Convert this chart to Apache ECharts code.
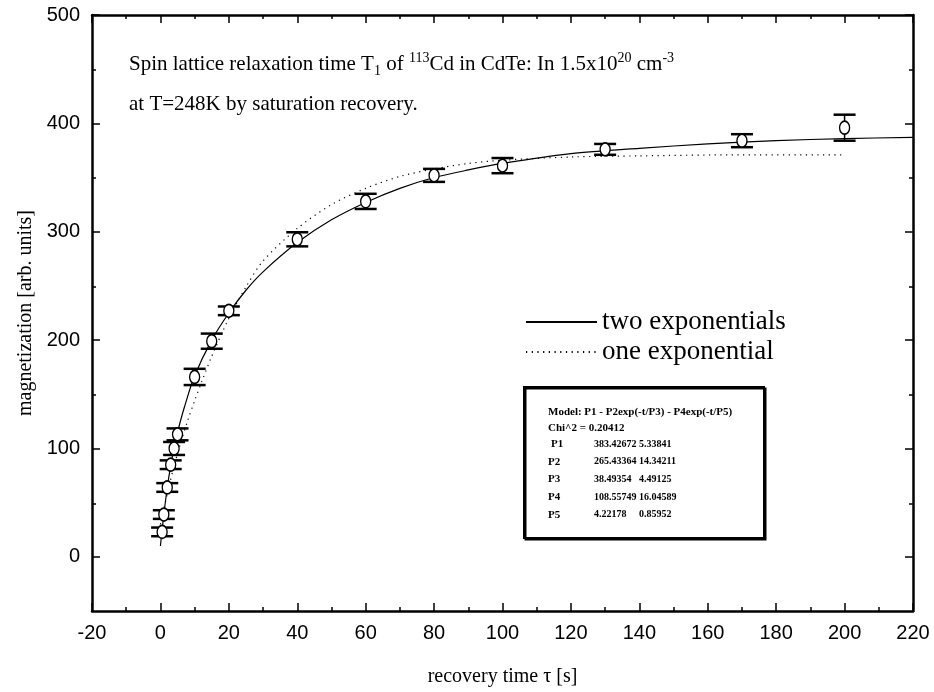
<!DOCTYPE html>
<html>
<head>
<meta charset="utf-8">
<script src="https://cdn.jsdelivr.net/npm/echarts@6/dist/echarts.min.js"></script>
<style>
  html, body { margin: 0; background: #fff; }
  #chart { width: 934px; height: 692px; }
</style>
</head>
<body>
<div id="chart"></div>
<script>
// measured points: recovery time (s), magnetization, error
const tau = [0.5, 1, 2, 3, 4, 5, 10, 15, 20, 40, 60, 80, 100, 130, 170, 200];
const mag = [23, 39, 64, 85, 100, 113, 166, 199, 227, 293, 328, 352, 361, 376, 384, 396];
const err = [4, 4, 4, 4, 6, 5.5, 7.5, 7, 4, 6.5, 7, 6, 7, 5, 6, 12];

// two exponential fit curve
const twoExpT = [0, 0.5, 1, 2, 3, 4, 5, 7, 10, 15, 20, 25, 30, 40, 50, 60, 70, 80, 90, 100, 120, 140, 160, 180, 200, 220];
const twoExpY = [10, 25, 39, 64, 84, 101, 115, 138, 167, 200, 225, 246, 263, 290, 311, 327, 340, 350, 357, 363, 372, 377, 381, 384, 386, 387];

// one exponential fit curve
const oneExpT = [0, 2, 4, 6, 8, 10, 12, 15, 20, 25, 30, 40, 50, 60, 70, 80, 90, 100, 120, 140, 170, 200];
const oneExpY = [30, 58, 84, 106, 126, 144, 161, 185, 220, 249, 273, 303, 325, 340, 351, 358, 363, 366, 369, 370, 371, 371];

const yMajor = [0, 100, 200, 300, 400, 500];
const yMinor = [50, 150, 250, 350, 450];

const fitRows = [
  ['P1', '383.42672', '5.33841'],
  ['P2', '265.43364', '14.34211'],
  ['P3', '38.49354', '4.49125'],
  ['P4', '108.55749', '16.04589'],
  ['P5', '4.22178', '0.85952']
];

const chart = echarts.init(document.getElementById('chart'));

const serif = 'Liberation Serif';
const sans = 'Liberation Sans';
const black = '#000';

const gridBox = { left: 92, right: 21, top: 15, bottom: 80 };
const tickLabel = { color: black, fontFamily: sans, fontSize: 20 };

// box with fit results
const boxLeft = 523, boxTop = 386;
const boxFont = 'bold 11px ' + serif;
const numFont = 'bold 10px ' + serif;
function boxText(x, y, text, font) {
  return { type: 'text', x: x, y: y, z: 11, style: { text: text, font: font, fill: black, verticalAlign: 'middle' } };
}
const boxTexts = [
  boxText(548, 412, 'Model: P1 - P2exp(-t/P3) - P4exp(-t/P5)', boxFont),
  boxText(548, 428, 'Chi^2 = 0.20412', boxFont)
];
fitRows.forEach((r, i) => {
  const y = 444 + i * 17.7;
  boxTexts.push(boxText(r[0] === 'P1' ? 551 : 548, y, r[0], boxFont));
  boxTexts.push(boxText(594, y, r[1], numFont));
  boxTexts.push(boxText(639, y, r[2], numFont));
});

function minorY(pos) {
  return {
    type: 'value', gridIndex: 1, position: pos,
    min: -50, max: 500,
    axisLine: { show: false, onZero: false },
    axisTick: { inside: true, length: 4, customValues: yMinor, lineStyle: { color: black, width: 1.5 } },
    axisLabel: { show: false },
    splitLine: { show: false }
  };
}

chart.setOption({
  animation: false,
  backgroundColor: '#fff',
  grid: [
    Object.assign({}, gridBox),
    Object.assign({}, gridBox)
  ],
  legend: {
    data: ['two exponentials', 'one exponential'],
    orient: 'vertical',
    left: 520,
    top: 303,
    itemWidth: 71,
    itemHeight: 12,
    itemGap: 2,
    selectedMode: false,
    itemStyle: { opacity: 0 },
    textStyle: { color: black, fontFamily: serif, fontSize: 27, lineHeight: 28 }
  },
  xAxis: [
    {
      type: 'value', gridIndex: 0, position: 'bottom',
      min: -20, max: 220, interval: 20,
      axisLine: { show: true, onZero: false, lineStyle: { color: black, width: 2.5 } },
      axisTick: { inside: true, length: 8, lineStyle: { color: black, width: 1.5 } },
      minorTick: { show: true, splitNumber: 2, length: 4, lineStyle: { color: black, width: 1.5 } },
      axisLabel: Object.assign({ margin: 12 }, tickLabel),
      splitLine: { show: false },
      name: 'recovery time τ [s]',
      nameLocation: 'middle',
      nameGap: 56,
      nameTextStyle: { color: black, fontFamily: serif, fontSize: 20 }
    },
    {
      type: 'value', gridIndex: 0, position: 'top',
      min: -20, max: 220, interval: 20,
      axisLine: { show: true, onZero: false, lineStyle: { color: black, width: 2.5 } },
      axisTick: { inside: true, length: 8, lineStyle: { color: black, width: 1.5 } },
      minorTick: { show: true, splitNumber: 2, length: 4, lineStyle: { color: black, width: 1.5 } },
      axisLabel: { show: false },
      splitLine: { show: false }
    },
    { type: 'value', gridIndex: 1, min: -20, max: 220, show: false }
  ],
  yAxis: [
    {
      type: 'value', gridIndex: 0, position: 'left',
      min: -50, max: 500,
      axisLine: { show: true, onZero: false, lineStyle: { color: black, width: 2.5 } },
      axisTick: { inside: true, length: 8, customValues: yMajor, lineStyle: { color: black, width: 1.5 } },
      axisLabel: Object.assign({ margin: 12, customValues: yMajor }, tickLabel),
      splitLine: { show: false },
      name: 'magnetization [arb. units]',
      nameLocation: 'middle',
      nameGap: 44,
      nameTextStyle: { color: black, fontFamily: serif, fontSize: 20 }
    },
    {
      type: 'value', gridIndex: 0, position: 'right',
      min: -50, max: 500,
      axisLine: { show: true, onZero: false, lineStyle: { color: black, width: 2.5 } },
      axisTick: { inside: true, length: 8, customValues: yMajor, lineStyle: { color: black, width: 1.5 } },
      axisLabel: { show: false },
      splitLine: { show: false }
    },
    minorY('left'),
    minorY('right')
  ],
  graphic: [
    {
      type: 'text', left: 129, top: 51,
      style: {
        text: 'Spin lattice relaxation time T{sub|1} of {sup|113}Cd in CdTe: In 1.5x10{sup|20} cm{sup|-3}',
        font: '21px ' + serif, fill: black,
        rich: {
          sub: { fontSize: 14, fontFamily: serif, verticalAlign: 'bottom', lineHeight: 14 },
          sup: { fontSize: 14, fontFamily: serif, verticalAlign: 'top', lineHeight: 14 }
        },
        lineHeight: 27
      }
    },
    {
      type: 'text', left: 129, top: 94,
      style: { text: 'at T=248K by saturation recovery.', font: '21px ' + serif, fill: black }
    },
    {
      type: 'rect', left: boxLeft, top: boxTop, z: 10,
      shape: { width: 240, height: 151 },
      style: { fill: '#fff', stroke: black, lineWidth: 2, shadowColor: black, shadowOffsetX: 1.5, shadowOffsetY: 1.5, shadowBlur: 0 }
    }
  ].concat(boxTexts),
  series: [
    {
      name: 'two exponentials',
      type: 'line',
      xAxisIndex: 0, yAxisIndex: 0,
      data: twoExpT.map((t, i) => [t, twoExpY[i]]),
      smooth: 0.3,
      symbol: 'none',
      itemStyle: { color: black },
      lineStyle: { color: black, width: 1.2 },
      z: 3
    },
    {
      name: 'one exponential',
      type: 'line',
      xAxisIndex: 0, yAxisIndex: 0,
      data: oneExpT.map((t, i) => [t, oneExpY[i]]),
      smooth: 0.3,
      symbol: 'none',
      itemStyle: { color: black },
      lineStyle: { color: black, width: 1.2, type: [1.2, 4.5] },
      z: 2
    },
    {
      name: 'errors',
      type: 'custom',
      xAxisIndex: 0, yAxisIndex: 0,
      data: tau.map((t, i) => [t, mag[i], err[i]]),
      renderItem: function (params, api) {
        const x = api.value(0), y = api.value(1), e = api.value(2);
        const top = api.coord([x, y + e]);
        const bot = api.coord([x, y - e]);
        const hw = 11;
        return {
          type: 'group',
          children: [
            { type: 'line', shape: { x1: top[0], y1: top[1], x2: bot[0], y2: bot[1] }, style: { stroke: black, lineWidth: 1.5 } },
            { type: 'line', shape: { x1: top[0] - hw, y1: top[1], x2: top[0] + hw, y2: top[1] }, style: { stroke: black, lineWidth: 2.5 } },
            { type: 'line', shape: { x1: bot[0] - hw, y1: bot[1], x2: bot[0] + hw, y2: bot[1] }, style: { stroke: black, lineWidth: 2.5 } }
          ]
        };
      },
      z: 4
    },
    {
      name: 'data',
      type: 'scatter',
      xAxisIndex: 0, yAxisIndex: 0,
      data: tau.map((t, i) => [t, mag[i]]),
      symbol: 'circle',
      symbolSize: [10, 13],
      itemStyle: { color: '#fff', borderColor: black, borderWidth: 1.5, opacity: 1 },
      z: 5
    }
  ]
});
</script>
</body>
</html>
